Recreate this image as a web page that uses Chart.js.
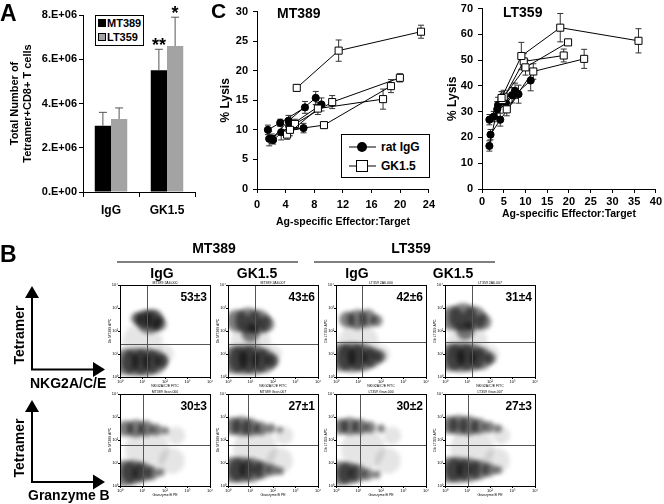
<!DOCTYPE html>
<html><head><meta charset="utf-8">
<script src="https://cdn.jsdelivr.net/npm/chart.js@4.4.1/dist/chart.umd.min.js"></script>
<style>
html,body{margin:0;padding:0;background:#fff;}
#fig{position:relative;width:664px;height:504px;overflow:hidden;font-family:"Liberation Sans",Arial,sans-serif;color:#000;background:#fff;}
#fig canvas{position:absolute;}
.t{position:absolute;font-weight:bold;white-space:nowrap;line-height:1;}
.box{position:absolute;border:1px solid #000;background:#fff;box-sizing:border-box;}
svg{position:absolute;overflow:visible;}
</style></head><body><div id="fig">
<canvas id="cA" width="200" height="222" style="left:0;top:0"></canvas>
<canvas id="cMT" width="240" height="232" style="left:200px;top:0"></canvas>
<canvas id="cLT" width="224" height="228" style="left:440px;top:-3px"></canvas>
</div>
<script>
// ---------------- DATA ----------------
// Panel A
const barCategories = ['IgG', 'GK1.5'];
const barMT389 = [3.0e6, 5.5e6];
const barMT389Err = [0.6e6, 0.95e6];
const barLT359 = [3.3e6, 6.6e6];
const barLT359Err = [0.5e6, 1.3e6];
const starsMT389 = ['', '**'];
const starsLT359 = ['', '*'];
const barYTicks = [0, 2e6, 4e6, 6e6, 8e6];

// Panel C, MT389: [E:T, %lysis, error]
const mtRatIgG = [
  [[1.52,10.0,0.8],[3.24,11.2,0.6],[6.7,13.8,1.0]],
  [[1.7,8.5,1.2],[3.38,9.6,1.3],[6.5,10.3,0.8]],
  [[2.08,8.5,0.8],[4.4,11.55,0.9],[8.2,15.4,1.1]],
  [[2.25,8.3,0.7],[4.5,10.6,1.0],[9.0,14.3,1.1]]
];
const mtGK15 = [
  [[5.55,17.1,0.5],[11.4,23.4,1.8],[22.9,26.6,1.1]],
  [[4.6,10.0,1.0],[9.35,10.8,0.5],[18.7,17.4,1.1]],
  [[4.2,9.2,0.8],[8.5,13.6,1.0],[17.6,15.2,1.7]],
  [[5.3,11.0,0.8],[10.5,14.7,1.1],[19.95,18.8,0.7]]
];
// Panel C, LT359
const ltRatIgG = [
  [[1.7,16.7,2.0],[3.5,30.9,3.0],[6.9,36.4,3.0]],
  [[1.96,21.1,2.0],[4.2,26.9,2.5],[8.4,36.8,3.5]],
  [[1.7,26.9,2.0],[3.7,32.6,3.0],[7.6,38.1,3.0]],
  [[2.7,28.1,2.0],[5.5,33.5,2.5],[11.2,42.1,4.0]]
];
const ltGK15 = [
  [[4.5,35.3,2.5],[9.05,51.6,5.3],[18.0,62.6,5.5],[36.0,57.5,4.7]],
  [[5.0,35.8,2.5],[10.0,47.2,3.0],[19.8,56.9,1.0]],
  [[4.7,34.5,2.0],[9.6,49.5,3.0],[18.8,51.8,2.5]],
  [[5.7,30.9,2.5],[11.8,45.6,3.0],[23.5,50.5,3.7]]
];

// Panel B: cell populations [log10 x, log10 y, radius]
const blobsMtIgGNk = [[1.05,2.5,9],[1.5,2.5,10],[1.3,2.4,12],[1.75,2.3,7],[0.75,2.55,6],
  [0.25,0.65,13],[0.7,0.65,14],[1.15,0.65,14],[1.55,0.65,12],[1.85,0.7,7]];
const blobsMtGkNk = [[0.4,2.45,11],[0.9,2.45,13],[1.35,2.4,12],[1.7,2.3,8],[1.0,1.9,9],
  [0.25,0.75,14],[0.7,0.75,15],[1.15,0.75,15],[1.6,0.7,12],[1.95,0.7,7]];
const blobsLtIgGNk = [[0.5,2.5,8],[0.95,2.5,10],[1.4,2.55,9],[1.8,2.45,6],
  [0.25,0.85,14],[0.7,0.85,15],[1.15,0.85,14],[1.6,0.85,10],[1.95,0.9,6]];
const blobsLtGkNk = [[0.3,2.55,12],[0.8,2.6,14],[1.3,2.55,12],[1.7,2.4,8],[0.9,2.0,9],
  [0.25,0.85,14],[0.7,0.85,15],[1.15,0.85,14],[1.6,0.8,11],[2.0,0.8,6]];
const blobsMtIgGGz = [[0.25,2.5,8],[0.7,2.5,9],[1.15,2.5,8],[1.6,2.45,6],[2.0,2.4,4],
  [0.2,0.55,13],[0.6,0.6,12],[1.0,0.6,10],[1.4,0.55,7],[1.8,0.6,4]];
const blobsMtGkGz = [[0.2,2.6,9],[0.6,2.6,10],[1.0,2.55,9],[1.45,2.5,7],[1.9,2.5,5],[2.3,2.45,3],
  [0.2,0.7,13],[0.6,0.7,13],[1.05,0.7,12],[1.5,0.7,9],[1.95,0.7,6],[2.3,0.65,4]];
const blobsLtIgGGz = [[0.2,2.58,8],[0.6,2.6,9],[1.05,2.58,8],[1.5,2.55,6],[2.0,2.5,4],
  [0.2,0.55,12],[0.55,0.55,11],[0.95,0.55,9],[1.4,0.5,6],[1.8,0.5,4]];
const blobsLtGkGz = [[0.2,2.65,9],[0.6,2.65,10],[1.05,2.62,10],[1.5,2.6,8],[1.95,2.55,6],[2.35,2.5,4],
  [0.2,0.7,13],[0.6,0.7,13],[1.05,0.7,12],[1.5,0.7,10],[1.95,0.7,7],[2.35,0.7,4]];
const sparseNk = [[1.0,1.5,20],[2.0,1.0,9]];
const sparseGz = [[1.2,1.6,22],[2.3,1.1,13],[2.5,2.2,9]];
const gatesX = [1.19, 1.18, 1.16, 1.19, 1.04, 0.91, 1.06, 1.04];
const gatesY = [1.44, 1.44, 1.52, 1.52, 1.78, 1.78, 1.78, 1.78];
const pctLabels = ['53±3','43±6','42±6','31±4','30±3','27±1','30±2','27±3'];
const plotTitles = ['MT389 2A6.000','MT389 2A6.007','LT359 2A6.000','LT359 2A6.007',
  'MT389 Gran.000','MT389 Gran.007','LT359 Gran.000','LT359 Gran.007'];
const flowTicks = ['10⁰','10¹','10²','10³','10⁴'];

// ---------------- SETUP ----------------
const FONT = '"Liberation Sans", Arial, sans-serif';
Chart.defaults.font.family = FONT;
Chart.defaults.color = '#000';
Chart.defaults.animation = false;
Chart.defaults.events = [];
Chart.defaults.plugins.legend.display = false;
Chart.defaults.plugins.tooltip.enabled = false;
const fig = document.getElementById('fig');

function txt(s, x, base, size, align, extra) {
  const d = document.createElement('div');
  d.className = 't'; d.textContent = s;
  d.style.fontSize = size + 'px';
  d.style.top = (base - 0.85 * size) + 'px';
  d.style.left = x + 'px';
  if (align === 'center') d.style.transform = 'translateX(-50%)';
  if (align === 'right') d.style.transform = 'translateX(-100%)';
  if (extra) Object.assign(d.style, extra);
  fig.appendChild(d);
  return d;
}
function vtxt(s, cx, cy, size) {
  const d = document.createElement('div');
  d.className = 't'; d.textContent = s; d.style.fontSize = size + 'px';
  d.style.left = cx + 'px'; d.style.top = cy + 'px';
  d.style.transform = 'translate(-50%,-50%) rotate(-90deg)';
  fig.appendChild(d);
}

// ---------------- PANEL A ----------------
const barErrPlugin = {
  id: 'barErr',
  afterDatasetsDraw(chart) {
    const ctx = chart.ctx, ys = chart.scales.y;
    chart.data.datasets.forEach((ds, di) => {
      chart.getDatasetMeta(di).data.forEach((el, i) => {
        const top = ys.getPixelForValue(ds.data[i] + ds.errors[i]);
        ctx.save();
        ctx.strokeStyle = '#555'; ctx.lineWidth = 1;
        ctx.beginPath();
        ctx.moveTo(el.x, el.y); ctx.lineTo(el.x, top);
        ctx.moveTo(el.x - 4, top); ctx.lineTo(el.x + 4, top);
        ctx.stroke();
        if (ds.stars[i]) {
          ctx.fillStyle = '#000';
          ctx.font = 'bold 18px ' + FONT;
          ctx.textAlign = 'center'; ctx.textBaseline = 'alphabetic';
          ctx.fillText(ds.stars[i], el.x, top + 2);
        }
        ctx.restore();
      });
    });
  }
};
new Chart(document.getElementById('cA'), {
  type: 'bar',
  data: {
    labels: barCategories,
    datasets: [
      { data: barMT389, errors: barMT389Err, stars: starsMT389, backgroundColor: '#000', borderColor: '#000', borderWidth: 0 },
      { data: barLT359, errors: barLT359Err, stars: starsLT359, backgroundColor: '#a3a3a3', borderColor: '#a3a3a3', borderWidth: 0 }
    ]
  },
  options: {
    responsive: false,
    layout: { padding: { top: 15, right: 5, left: 0, bottom: 0 } },
    datasets: { bar: { categoryPercentage: 0.58, barPercentage: 1.0 } },
    scales: {
      x: {
        grid: { display: true, drawOnChartArea: false, tickLength: 5, color: '#000', offset: true },
        border: { color: '#000' },
        ticks: { font: { size: 12, weight: 'bold' }, padding: 6 },
        afterFit: s => { s.height = 30; }
      },
      y: {
        min: 0, max: 8e6,
        afterBuildTicks: s => { s.ticks = barYTicks.map(v => ({ value: v })); },
        grid: { display: true, drawOnChartArea: false, tickLength: 4, color: '#000' },
        border: { color: '#000' },
        ticks: { font: { size: 11, weight: 'bold' }, padding: 2,
          callback: v => v === 0 ? '0.E+00' : (v / 1e6) + '.E+06' },
        title: { display: true, text: ['Total Number of', 'Tetramer+CD8+ T cells'],
          font: { size: 11, weight: 'bold' }, padding: { top: 8, bottom: 0 } },
        afterFit: s => { s.width = 83; }
      }
    }
  },
  plugins: [barErrPlugin]
});

// ---------------- PANEL C ----------------
const lineErrPlugin = {
  id: 'lineErr',
  beforeDatasetsDraw(chart) {
    const ctx = chart.ctx, ys = chart.scales.y;
    ctx.save(); ctx.strokeStyle = '#333'; ctx.lineWidth = 1;
    chart.data.datasets.forEach((ds, di) => {
      chart.getDatasetMeta(di).data.forEach((el, i) => {
        const p = ds.data[i];
        const t = ys.getPixelForValue(p.y + p.e), b = ys.getPixelForValue(p.y - p.e);
        ctx.beginPath();
        ctx.moveTo(el.x, t); ctx.lineTo(el.x, b);
        ctx.moveTo(el.x - 3, t); ctx.lineTo(el.x + 3, t);
        ctx.moveTo(el.x - 3, b); ctx.lineTo(el.x + 3, b);
        ctx.stroke();
      });
    });
    ctx.restore();
  }
};
function toPts(s) { return s.map(p => ({ x: p[0], y: p[1], e: p[2] })); }
function lysisChart(id, igg, gk, xMax, xStep, yMax, yStep, yW, xH, padTop, padRight, yTitlePad, xTitlePad, tickPad) {
  const ds = [];
  gk.forEach(s => ds.push({ data: toPts(s), showLine: true, borderColor: '#000', borderWidth: 1,
    pointStyle: 'rect', pointRadius: 5, pointBackgroundColor: '#fff', pointBorderColor: '#000', pointBorderWidth: 1 }));
  igg.forEach(s => ds.push({ data: toPts(s), showLine: true, borderColor: '#000', borderWidth: 1,
    pointStyle: 'circle', pointRadius: 3.6, pointBackgroundColor: '#000', pointBorderColor: '#000', pointBorderWidth: 1 }));
  new Chart(document.getElementById(id), {
    type: 'scatter',
    data: { datasets: ds },
    options: {
      responsive: false,
      layout: { padding: { top: padTop, right: padRight, left: 0, bottom: 0 } },
      scales: {
        x: { type: 'linear', min: 0, max: xMax,
          ticks: { stepSize: xStep, font: { size: 11, weight: 'bold' }, padding: tickPad, maxRotation: 0 },
          grid: { display: true, drawOnChartArea: false, tickLength: 4, color: '#000' },
          border: { color: '#000' },
          title: { display: true, text: 'Ag-specific Effector:Target', font: { size: 10.5, weight: 'bold' }, padding: { top: 0, bottom: xTitlePad } },
          afterFit: s => { s.height = xH; } },
        y: { min: 0, max: yMax,
          ticks: { stepSize: yStep, font: { size: 11, weight: 'bold' }, padding: 5 },
          grid: { display: true, drawOnChartArea: false, tickLength: 4, color: '#000' },
          border: { color: '#000' },
          title: { display: true, text: '% Lysis', font: { size: 12, weight: 'bold' }, padding: { top: yTitlePad, bottom: 0 } },
          afterFit: s => { s.width = yW; } }
      }
    },
    plugins: [lineErrPlugin]
  });
}
lysisChart('cMT', mtRatIgG, mtGK15, 24, 4, 30, 5, 57, 43, 9, 8, 18, 4, 5);
lysisChart('cLT', ltRatIgG, ltGK15, 40, 5, 70, 10, 42, 36, 8, 6, 5, 5, 2);

// ---------------- PANEL B ----------------
const flowDeco = {
  id: 'flowDeco',
  beforeDatasetsDraw(chart) { chart.ctx.save(); chart.ctx.filter = 'blur(2px)'; },
  afterDatasetsDraw(chart, args, o) {
    const { ctx, chartArea: a, scales: { x, y } } = chart;
    ctx.restore();
    ctx.save();
    const gx = Math.round(x.getPixelForValue(o.gate[0])) + 0.5;
    const gy = Math.round(y.getPixelForValue(o.gate[1])) + 0.5;
    ctx.strokeStyle = '#555'; ctx.lineWidth = 1;
    ctx.beginPath();
    ctx.moveTo(gx, a.top); ctx.lineTo(gx, a.bottom);
    ctx.moveTo(a.left, gy); ctx.lineTo(a.right, gy);
    ctx.stroke();
    ctx.strokeStyle = '#000';
    ctx.strokeRect(Math.round(a.left) + 0.5, Math.round(a.top) + 0.5, Math.round(a.right - a.left), Math.round(a.bottom - a.top));
    ctx.fillStyle = '#000';
    ctx.font = 'bold 12px ' + FONT;
    ctx.textAlign = 'right'; ctx.textBaseline = 'alphabetic';
    ctx.fillText(o.pct, a.right - 3, a.top + 15.6);
    ctx.font = '3.5px ' + FONT;
    ctx.textAlign = 'center';
    ctx.fillText(o.title, (a.left + a.right) / 2, a.top - 1.5);
    ctx.restore();
  }
};
const flowBlobs = [blobsMtIgGNk, blobsMtGkNk, blobsLtIgGNk, blobsLtGkNk, blobsMtIgGGz, blobsMtGkGz, blobsLtIgGGz, blobsLtGkGz];
const colLeft = [120, 228, 336, 445];
const rowTop = [285, 394];
flowBlobs.forEach((blobs, k) => {
  const row = Math.floor(k / 4), col = k % 4;
  const cv = document.createElement('canvas');
  cv.width = 109; cv.height = 112;
  cv.style.left = (colLeft[col] - 14) + 'px';
  cv.style.top = (rowTop[row] - 8) + 'px';
  fig.appendChild(cv);
  const sparse = row === 0 ? sparseNk : sparseGz;
  const xTitle = row === 0 ? 'NKG2A/C/E FITC' : 'Granzyme B PE';
  const yTitle = (col < 2 ? 'Db MT389' : 'Db LT359') + ' APC';
  new Chart(cv, {
    type: 'bubble',
    data: { datasets: [
      { data: blobs.map(b => ({ x: b[0], y: b[1], r: b[2] })), backgroundColor: 'rgba(0,0,0,0.5)', borderWidth: 0, clip: 0 },
      { data: sparse.map(b => ({ x: b[0], y: b[1], r: b[2] })), backgroundColor: 'rgba(0,0,0,0.1)', borderWidth: 0, clip: 0 }
    ] },
    options: {
      responsive: false,
      layout: { autoPadding: false, padding: { top: 8, right: 5, left: 0, bottom: 0 } },
      scales: {
        x: { type: 'linear', min: 0, max: 4,
          ticks: { stepSize: 1, font: { size: 4 }, padding: 0, maxRotation: 0, callback: v => flowTicks[v] },
          grid: { display: true, drawOnChartArea: false, tickLength: 2, color: '#000' },
          border: { display: false },
          title: { display: true, text: xTitle, font: { size: 3.5 }, padding: { top: 0, bottom: 1 } },
          afterFit: s => { s.height = 12; } },
        y: { type: 'linear', min: 0, max: 4,
          ticks: { stepSize: 1, font: { size: 4 }, padding: 0, callback: v => flowTicks[v] },
          grid: { display: true, drawOnChartArea: false, tickLength: 2, color: '#000' },
          border: { display: false },
          title: { display: true, text: yTitle, font: { size: 3.5 }, padding: { top: 2, bottom: 0 } },
          afterFit: s => { s.width = 14; } }
      },
      plugins: { flowDeco: { gate: [gatesX[k], gatesY[k]], pct: pctLabels[k], title: plotTitles[k] } }
    },
    plugins: [flowDeco]
  });
});

// ---------------- TEXT & DECORATION ----------------
txt('A', 0, 22, 23);
txt('B', 0, 263, 23);
txt('C', 211, 18, 21);
txt('MT389', 277, 18, 14);
txt('LT359', 503, 17, 14);
txt('MT389', 214, 253, 14, 'center');
txt('LT359', 411, 253, 14, 'center');
txt('IgG', 162, 278, 14, 'center');
txt('GK1.5', 257, 278, 14, 'center');
txt('IgG', 357, 278, 14, 'center');
txt('GK1.5', 453, 278, 14, 'center');
vtxt('Tetramer', 19, 335, 14);
vtxt('Tetramer', 19, 448, 14);
txt('NKG2A/C/E', 30, 388, 14);
txt('Granzyme B', 28, 500, 14);

// Panel A legend
const lgA = document.createElement('div');
lgA.className = 'box';
Object.assign(lgA.style, { left: '95px', top: '15px', width: '49px', height: '31px' });
fig.appendChild(lgA);
[['MT389', '#000', 23], ['LT359', '#a3a3a3', 37]].forEach(([name, c, cy]) => {
  const sq = document.createElement('div');
  Object.assign(sq.style, { position: 'absolute', left: '98px', top: (cy - 4) + 'px', width: '8px', height: '8px', background: c, border: '0.5px solid #000', boxSizing: 'border-box' });
  fig.appendChild(sq);
  txt(name, 107, cy + 4.5, 11);
});

// Panel C legend (MT389)
const lgC = document.createElement('div');
lgC.className = 'box';
Object.assign(lgC.style, { left: '341px', top: '134px', width: '89px', height: '44px' });
fig.appendChild(lgC);
const ns = 'http://www.w3.org/2000/svg';
function svgEl(tag, attrs, parent) { const e = document.createElementNS(ns, tag); for (const k in attrs) e.setAttribute(k, attrs[k]); parent.appendChild(e); return e; }
const svg = svgEl('svg', { width: 664, height: 504, style: 'left:0;top:0' }, fig);
svgEl('line', { x1: 349, y1: 147, x2: 376, y2: 147, stroke: '#000', 'stroke-width': 1 }, svg);
svgEl('circle', { cx: 362, cy: 147, r: 5, fill: '#000' }, svg);
svgEl('line', { x1: 349, y1: 166, x2: 376, y2: 166, stroke: '#000', 'stroke-width': 1 }, svg);
svgEl('rect', { x: 356.5, y: 160.5, width: 11, height: 11, fill: '#fff', stroke: '#000', 'stroke-width': 1 }, svg);
txt('rat IgG', 381, 151.5, 12);
txt('GK1.5', 381, 170.5, 12);

// Panel B header rules
svgEl('line', { x1: 117, y1: 262, x2: 298, y2: 262, stroke: '#000', 'stroke-width': 1.2 }, svg);
svgEl('line', { x1: 314, y1: 262, x2: 495, y2: 262, stroke: '#000', 'stroke-width': 1.2 }, svg);

// Axis arrow diagrams
[[296, 369.5, 286], [410, 482, 400]].forEach(([vTop, hY, tip]) => {
  svgEl('line', { x1: 32, y1: hY, x2: 32, y2: vTop, stroke: '#000', 'stroke-width': 2 }, svg);
  svgEl('polygon', { points: `25,${tip + 12} 39,${tip + 12} 32,${tip}`, fill: '#000' }, svg);
  svgEl('line', { x1: 31, y1: hY, x2: 94, y2: hY, stroke: '#000', 'stroke-width': 2 }, svg);
  svgEl('polygon', { points: `93,${hY - 7.5} 93,${hY + 7.5} 105,${hY}`, fill: '#000' }, svg);
});
</script>
</body></html>
